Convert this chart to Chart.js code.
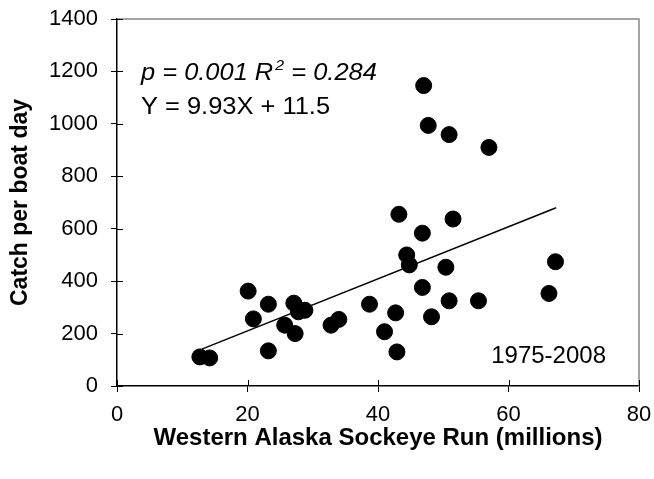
<!DOCTYPE html>
<html>
<head>
<meta charset="utf-8">
<script src="https://cdn.jsdelivr.net/npm/chart.js@4/dist/chart.umd.min.js"></script>
<style>
  html, body { margin: 0; padding: 0; background: #fff; }
  #wrap { width: 654px; height: 479px; }
</style>
</head>
<body>
<div id="wrap"><canvas id="chart" width="654" height="479"></canvas></div>
<script>
// sockeye run (millions) vs catch per boat day, 1975-2008
const runMillions = [12.7, 14.2, 20.1, 23.2, 20.9, 23.2, 27.1, 27.8, 28.8, 25.7, 27.3,
  32.8, 34.0, 38.7, 43.2, 51.5, 46.8, 44.4, 44.8, 50.4, 67.2, 66.2, 46.8, 50.9,
  55.4, 42.7, 48.2, 41.0, 42.9, 47.0, 47.7, 50.9, 57.0];
const catchPerDay = [111, 107, 362, 312, 256, 134, 316, 283, 289, 232, 200,
  232, 254, 312, 655, 637, 583, 500, 462, 453, 474, 353, 376, 325,
  325, 279, 264, 207, 130, 1146, 994, 959, 910];

// fitted line Y = 9.93X + 11.5, endpoints
const trendX = [13.0, 67.3];
const trendY = [140.6, 679.8];

const xTicks = [0, 20, 40, 60, 80];
const yTicks = [0, 200, 400, 600, 800, 1000, 1200, 1400];

const FONT = "'Liberation Sans', Arial, sans-serif";

const points = runMillions.map((x, i) => ({ x: x, y: catchPerDay[i] }));
const trend = trendX.map((x, i) => ({ x: x, y: trendY[i] }));

// short ticks on the inside of the axes, grey top/right frame, text notes
const extras = {
  id: 'extras',
  afterDraw(chart) {
    const { ctx, chartArea: a, scales } = chart;
    ctx.save();
    ctx.strokeStyle = '#888';
    ctx.lineWidth = 1.5;
    ctx.beginPath();
    ctx.moveTo(a.left, a.top);
    ctx.lineTo(a.right, a.top);
    ctx.lineTo(a.right, a.bottom);
    ctx.stroke();

    ctx.strokeStyle = '#000';
    ctx.lineWidth = 1;
    ctx.beginPath();
    yTicks.forEach(v => {
      const y = Math.round(scales.y.getPixelForValue(v)) + 0.5;
      ctx.moveTo(a.left, y);
      ctx.lineTo(a.left + 6, y);
    });
    xTicks.forEach(v => {
      const x = Math.round(scales.x.getPixelForValue(v)) + 0.5;
      ctx.moveTo(x, a.bottom);
      ctx.lineTo(x, a.bottom - 6);
    });
    ctx.stroke();

    ctx.fillStyle = '#000';
    ctx.textBaseline = 'alphabetic';
    ctx.textAlign = 'left';

    // the two statistics lines are a touch wider than the font in the original
    ctx.save();
    ctx.translate(141, 0);
    ctx.scale(1.06, 1);
    let x = 0;
    const y1 = 80;
    ctx.font = 'italic 24px ' + FONT;
    let s = 'p = 0.001 R';
    ctx.fillText(s, x, y1);
    x += ctx.measureText(s).width;
    ctx.font = 'italic 15px ' + FONT;
    ctx.fillText('2', x + 2, y1 - 10);
    x += ctx.measureText('2').width + 2;
    ctx.font = 'italic 24px ' + FONT;
    ctx.fillText(' = 0.284', x, y1);

    ctx.font = '24px ' + FONT;
    ctx.fillText('Y = 9.93X + 11.5', 0, 114);
    ctx.restore();

    ctx.font = '24px ' + FONT;
    ctx.textAlign = 'right';
    ctx.fillText('1975-2008', 606, 363);
    ctx.restore();
  }
};

new Chart(document.getElementById('chart'), {
  type: 'scatter',
  data: {
    datasets: [
      {
        label: 'Catch',
        data: points,
        backgroundColor: '#000',
        borderColor: '#000',
        pointRadius: 8,
        pointHoverRadius: 8
      },
      {
        type: 'line',
        label: 'Fit',
        data: trend,
        borderColor: '#000',
        borderWidth: 1.5,
        pointRadius: 0,
        fill: false
      }
    ]
  },
  options: {
    responsive: false,
    animation: false,
    layout: { padding: { top: 19, right: 15, left: 0, bottom: 0 } },
    plugins: { legend: { display: false }, tooltip: { enabled: false } },
    scales: {
      x: {
        type: 'linear',
        min: 0, max: 80,
        afterBuildTicks: s => { s.ticks = xTicks.map(v => ({ value: v })); },
        afterFit: s => { s.height = 93; s.paddingLeft = 0; s.paddingRight = 0; },
        border: { display: true, color: '#000', width: 1.5 },
        grid: { drawOnChartArea: false, tickLength: 6, color: '#000' },
        ticks: { color: '#000', font: { family: FONT, size: 22 }, padding: 10, callback: v => String(v) },
        title: {
          display: true,
          text: 'Western Alaska Sockeye Run (millions)',
          color: '#000',
          font: { family: FONT, size: 24, weight: 'bold' },
          padding: { top: 8, bottom: 26 }
        }
      },
      y: {
        min: 0, max: 1400,
        afterBuildTicks: s => { s.ticks = yTicks.map(v => ({ value: v })); },
        afterFit: s => { s.width = 117; s.paddingTop = 0; s.paddingBottom = 0; },
        border: { display: true, color: '#000', width: 1.5 },
        grid: { drawOnChartArea: false, tickLength: 6, color: '#000' },
        ticks: { color: '#000', font: { family: FONT, size: 22 }, padding: 13, callback: v => String(v) },
        title: {
          display: true,
          text: 'Catch per boat day',
          color: '#000',
          font: { family: FONT, size: 23, weight: 'bold' },
          padding: { top: 7, bottom: 0 }
        }
      }
    }
  },
  plugins: [extras]
});
</script>
</body>
</html>
